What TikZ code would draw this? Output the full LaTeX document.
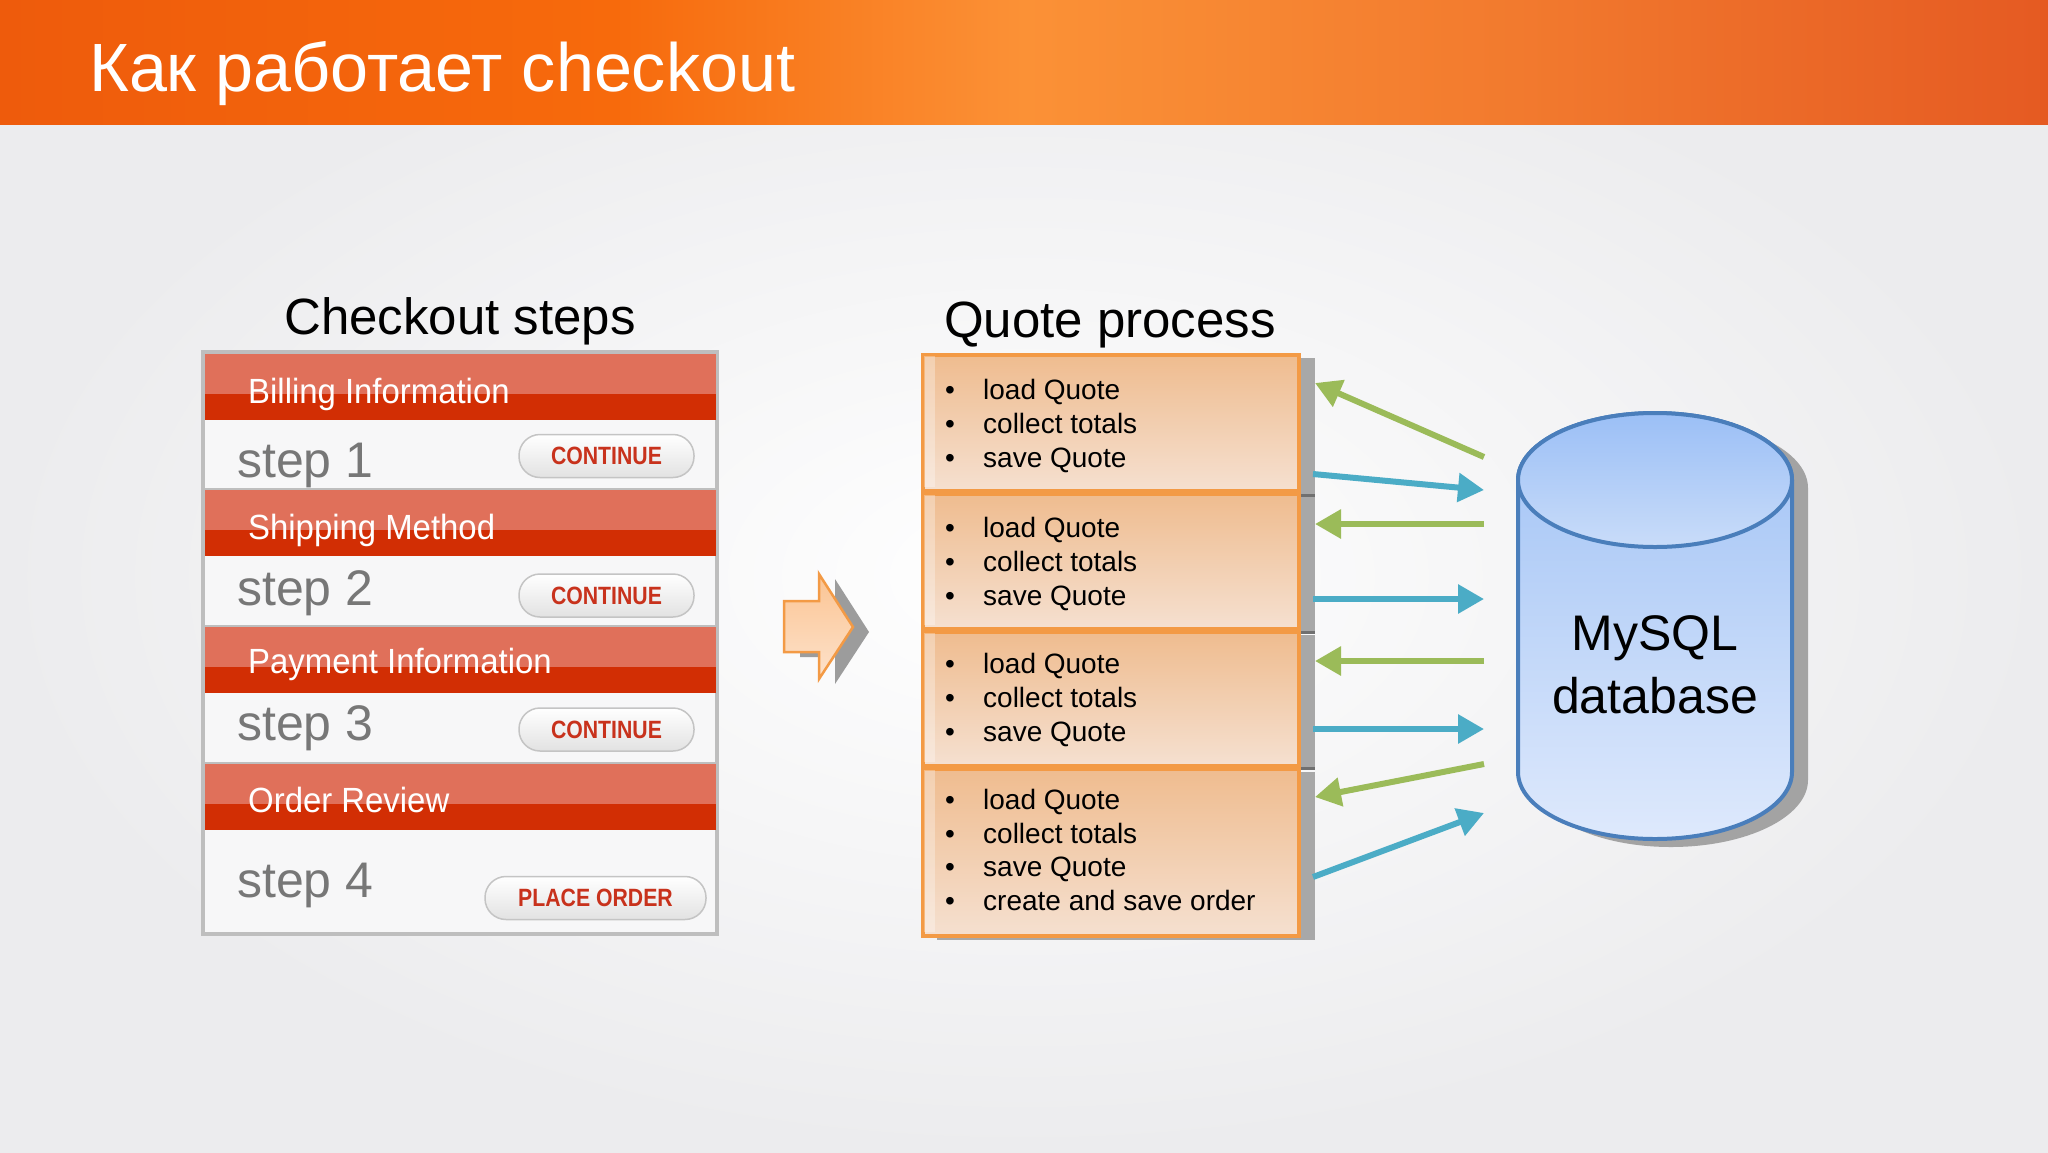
\documentclass[tikz,border=0pt]{standalone}
\usepackage{fontspec}
\setmainfont{Liberation Sans}
\newfontfamily\narrowfont{Liberation Sans}[FakeStretch=0.94]
\newfontfamily\btnfont{Liberation Sans}[FakeStretch=0.85]
\usetikzlibrary{arrows.meta}
\definecolor{h0}{HTML}{EE5B0C}
\definecolor{h1}{HTML}{F76A0C}
\definecolor{h2}{HTML}{FB9136}
\definecolor{h3}{HTML}{F27A2E}
\definecolor{h4}{HTML}{E55A22}
\definecolor{bggray}{HTML}{ECECEE}
\definecolor{hdtop}{HTML}{E0705A}
\definecolor{hdbot}{HTML}{D22E04}
\definecolor{rowbg}{HTML}{F7F7F8}
\definecolor{framegray}{HTML}{BEBEBE}
\definecolor{stepgray}{HTML}{777777}
\definecolor{btnred}{HTML}{C8321C}
\definecolor{btnborder}{HTML}{C4C4C4}
\definecolor{btnbot}{HTML}{E2E2E2}
\definecolor{qborder}{HTML}{F39A45}
\definecolor{qtop}{HTML}{EFBC8F}
\definecolor{qbot}{HTML}{F5E0D0}
\definecolor{qshadow}{HTML}{A8A8A8}
\definecolor{tickgray}{HTML}{707070}
\definecolor{arrgreen}{HTML}{9BBB59}
\definecolor{arrblue}{HTML}{4BACC6}
\definecolor{dbline}{HTML}{4A7EBB}
\definecolor{dbshadow}{HTML}{A3A3A3}
\definecolor{dbtop}{HTML}{A0C2F5}
\definecolor{dbbot}{HTML}{DEE9FC}
\definecolor{elltop}{HTML}{9BBFF6}
\definecolor{ellbot}{HTML}{C9DCF9}
\definecolor{midtop}{HTML}{FBC493}
\definecolor{midbot}{HTML}{FDE2CB}
\definecolor{arrshadow}{HTML}{9C9C9C}
\pgfdeclarehorizontalshading{hdrshade}{100bp}{color(0bp)=(h0); color(25bp)=(h0); color(40bp)=(h1); color(50bp)=(h2); color(62bp)=(h3); color(75bp)=(h4); color(100bp)=(h4)}
\begin{document}
\begin{tikzpicture}[x=1pt,y=-1pt,
  hdrtxt/.style={font=\narrowfont\fontsize{35}{40}\selectfont, text=white, anchor=base west, inner sep=0pt},
  steptxt/.style={font=\fontsize{50}{54}\selectfont, text=stepgray, anchor=base west, inner sep=0pt},
  btn/.style={draw=btnborder, line width=1.5pt, rounded corners=21pt, top color=white, bottom color=btnbot, minimum height=43pt, inner sep=0pt, font=\btnfont\bfseries\fontsize{25}{28}\selectfont, text=btnred},
  qtxt/.style={font=\fontsize{28}{30}\selectfont, anchor=base west, inner sep=0pt},
  qbox/.style={draw=qborder, line width=4pt, top color=qtop, bottom color=qbot, anchor=north west, inner sep=0pt, minimum width=376pt},
  garrow/.style={draw=arrgreen, line width=6pt, -{Triangle[length=26pt,width=28pt]}},
  barrow/.style={draw=arrblue, line width=6pt, -{Triangle[length=26pt,width=28pt]}},
  headtxt/.style={font=\fontsize{51}{55}\selectfont, anchor=base, inner sep=0pt}
]
\useasboundingbox (0,0) rectangle (2048,1152);
% background
\shade[inner color=white, outer color=bggray] (0,0) rectangle (2048,1152);
% header band
\shade[shading=hdrshade] (0,0) rectangle (2048,124);
\node[anchor=base west, inner sep=0pt, text=white, font=\fontsize{68.3}{70}\selectfont] (title) at (89,91) {Как работает checkout};
% headings
\node[headtxt] (lhead) at (460,334) {Checkout steps};
\node[headtxt] (rhead) at (1110,337) {Quote process};
% left panel
\filldraw[fill=rowbg, draw=framegray, line width=3.5pt] (203,352) rectangle (717,934);
\foreach \t/\b/\lab/\nm in {354/403/Billing Information/hb1, 490/539/Shipping Method/hb2, 627/673/Payment Information/hb3, 764/812/Order Review/hb4}{
  \fill[hdtop] (205,\t) rectangle (715.5,\t+40);
  \fill[hdbot] (205,\t+40) rectangle (715.5,\t+66);
  \node[hdrtxt] (\nm) at (248,\b) {\lab};
}
\foreach \y in {489,626,763}{
  \draw[framegray, line width=2.5pt] (204,\y) -- (716,\y);
}
\node[steptxt] (s1) at (237,477) {step 1};
\node[steptxt] (s2) at (237,605) {step 2};
\node[steptxt] (s3) at (237,740) {step 3};
\node[steptxt] (s4) at (237,897) {step 4};
\node[btn, minimum width=175pt] (b1) at (606.5,456) {CONTINUE};
\node[btn, minimum width=175pt] (b2) at (606.5,595.5) {CONTINUE};
\node[btn, minimum width=175pt] (b3) at (606.5,729.5) {CONTINUE};
\node[btn, minimum width=221pt] (b4) at (595.5,898) {PLACE ORDER};
% middle block arrow
\begin{scope}[shift={(16,5)}]
  \fill[arrshadow] (784,601) -- (819,601) -- (819,574) -- (853,627) -- (819,679) -- (819,652) -- (784,652) -- cycle;
\end{scope}
\path[draw=qborder, line width=2.5pt, top color=midtop, bottom color=midbot] (784,601) -- (819,601) -- (819,574) -- (853,627) -- (819,679) -- (819,652) -- (784,652) -- cycle;
% quote boxes: shadows
\foreach \t/\b in {353/489, 492/627, 630/764, 767/934}{
  \fill[qshadow] (937,\t+5) rectangle (1315,\b+6);
}
\foreach \y in {495,632,768}{
  \draw[tickgray, line width=3pt] (1299,\y) -- (1315,\y);
}
\node[qbox, minimum height=136pt] (q1) at (921,353) {};
\node[qbox, minimum height=135pt] (q2) at (921,492) {};
\node[qbox, minimum height=134pt] (q3) at (921,630) {};
\node[qbox, minimum height=167pt] (q4) at (921,767) {};
\foreach \t/\b in {353/489, 492/627, 630/764, 767/934}{
  \fill[white, opacity=0.3] (923.5,\t+2.5) rectangle (935,\b-2.5);
}
% quote texts
\foreach \y/\txt/\nm in {399/load Quote/t11, 433/collect totals/t12, 467/save Quote/t13,
                          537/load Quote/t21, 571/collect totals/t22, 605/save Quote/t23,
                          673/load Quote/t31, 707/collect totals/t32, 741/save Quote/t33,
                          809/load Quote/t41, 843/collect totals/t42, 876/save Quote/t43, 910/create and save order/t44}{
  \node[qtxt] (\nm b) at (945,\y) {•};
  \node[qtxt] (\nm) at (983,\y) {\txt};
}
% arrows between quote process and database
\coordinate (g1s) at (1484,457); \coordinate (g1e) at (1315,383);
\coordinate (l1s) at (1313,474); \coordinate (l1e) at (1484,490);
\coordinate (g2s) at (1484,524); \coordinate (g2e) at (1315,524);
\coordinate (l2s) at (1313,599); \coordinate (l2e) at (1484,599);
\coordinate (g3s) at (1484,661); \coordinate (g3e) at (1315,661);
\coordinate (l3s) at (1313,729); \coordinate (l3e) at (1484,729);
\coordinate (g4s) at (1484,764); \coordinate (g4e) at (1315,797);
\coordinate (l4s) at (1313,877); \coordinate (l4e) at (1484,813);
\draw[garrow] (g1s) -- (g1e);
\draw[barrow] (l1s) -- (l1e);
\draw[garrow] (g2s) -- (g2e);
\draw[barrow] (l2s) -- (l2e);
\draw[garrow] (g3s) -- (g3e);
\draw[barrow] (l3s) -- (l3e);
\draw[garrow] (g4s) -- (g4e);
\draw[barrow] (l4s) -- (l4e);
% database cylinder
\begin{scope}[shift={(16,8)}]
  \fill[dbshadow] (1518,480) -- (1518,772) arc[start angle=180, end angle=0, x radius=137, y radius=67] -- (1792,480) arc[start angle=360, end angle=180, x radius=137, y radius=67] -- cycle;
\end{scope}
\path[draw=dbline, line width=4pt, top color=dbtop, bottom color=dbbot] (1518,480) -- (1518,772) arc[start angle=180, end angle=0, x radius=137, y radius=67] -- (1792,480) arc[start angle=360, end angle=180, x radius=137, y radius=67] -- cycle;
\path[draw=dbline, line width=4pt, top color=elltop, bottom color=ellbot] (1655,480) ellipse[x radius=137, y radius=67];
\node[font=\fontsize{50}{60}\selectfont, anchor=base, inner sep=0pt] (db1) at (1655,650) {MySQL};
\node[font=\fontsize{50}{60}\selectfont, anchor=base, inner sep=0pt] (db2) at (1655,713) {database};
\end{tikzpicture}
\end{document}
